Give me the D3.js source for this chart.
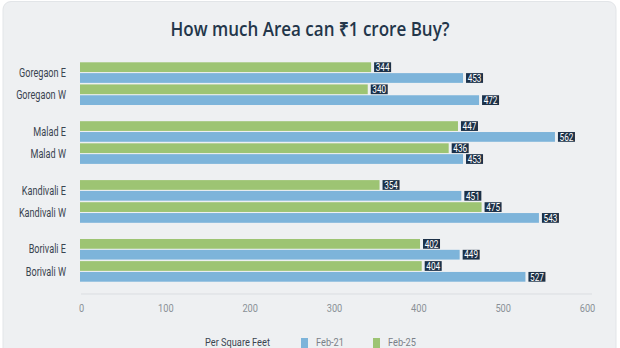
<!DOCTYPE html>
<html><head><meta charset="utf-8">
<script src="https://cdn.jsdelivr.net/npm/d3@7"></script>
<style>
html,body{margin:0;padding:0;background:#ffffff;overflow:hidden;}
svg{display:block;}
</style></head>
<body>
<svg id="chart" width="620" height="348"></svg>
<script>
const title = "How much Area can ₹1 crore Buy?";
const groups = ["Goregaon", "Malad", "Kandivali", "Borivali"];
const categories = ["Goregaon E", "Goregaon W", "Malad E", "Malad W", "Kandivali E", "Kandivali W", "Borivali E", "Borivali W"];
const seriesNames = ["Feb-25", "Feb-21"];
const feb25 = [344, 340, 447, 436, 354, 475, 402, 404];
const feb21 = [453, 472, 562, 453, 451, 543, 449, 527];
const xTicks = [0, 100, 200, 300, 400, 500, 600];
const legendTitle = "Per Square Feet";
const legendItems = ["Feb-21", "Feb-25"];

const colors = {"Feb-21": "#7db4da", "Feb-25": "#9dc473"};
const font = "Roboto, 'Open Sans', sans-serif";

const svg = d3.select("#chart");
svg.append("rect").attr("x", 3).attr("y", 1.5).attr("width", 613).attr("height", 360)
  .attr("rx", 8).attr("fill", "#eef0f2").attr("stroke", "#e2e5e8");

svg.append("text").attr("x", 310).attr("y", 36).attr("text-anchor", "middle")
  .attr("font-family", "'Open Sans', sans-serif").attr("font-weight", 600)
  .attr("font-size", 19).attr("fill", "#23364a").attr("textLength", 279)
  .attr("lengthAdjust", "spacingAndGlyphs").text(title);

const x = d3.scaleLinear().domain([0, 600]).range([81, 587]);
const yGroup = d3.scaleBand().domain(groups).range([62.3, 281.7]).paddingInner(0.275).paddingOuter(0);
const yCat = d3.scaleBand().domain([0, 1]).range([0, yGroup.bandwidth()]).paddingInner(0.07);
const ySer = d3.scaleBand().domain(seriesNames).range([0, yCat.bandwidth()]).paddingInner(0.1);

const rows = categories.map((c, i) => ({cat: c, group: groups[Math.floor(i / 2)], idx: i % 2,
  vals: {"Feb-25": feb25[i], "Feb-21": feb21[i]}}));

const catY = d => yGroup(d.group) + yCat(d.idx);

// axis line
svg.append("line").attr("x1", x(0)).attr("x2", x(600) + 5).attr("y1", 294).attr("y2", 294)
  .attr("stroke", "#dadde1").attr("stroke-width", 1);

// tick labels
const axis = d3.axisBottom(x).tickValues(xTicks).tickSize(0).tickPadding(0);
const ag = svg.append("g").attr("transform", "translate(0,305)").call(axis);
ag.select(".domain").remove();
ag.selectAll("text").attr("font-family", font).attr("font-size", 10.5).attr("fill", "#8a9097")
  .attr("dy", "0.71em").attr("transform", "scale(0.88,1)");

// category labels (condensed)
svg.append("g").selectAll("text").data(rows).join("text")
  .attr("transform", d => `translate(66,${catY(d) + yCat.bandwidth() / 2}) scale(0.76,1)`)
  .attr("dy", "0.35em")
  .attr("text-anchor", "end").attr("font-family", font).attr("font-size", 12).attr("fill", "#3a4450")
  .text(d => d.cat);

// bars
const bars = [];
rows.forEach(d => seriesNames.forEach(s => bars.push({row: d, s, v: d.vals[s]})));
svg.append("g").selectAll("rect").data(bars).join("rect")
  .attr("x", x(0) - 1).attr("y", d => catY(d.row) + ySer(d.s))
  .attr("width", d => x(d.v) - x(0) + 1).attr("height", ySer.bandwidth())
  .attr("fill", d => colors[d.s]);

// value labels
const lg = svg.append("g");
bars.forEach(d => {
  const g = lg.append("g");
  const w = 17;
  const bx = x(d.v) + 3;
  const by = catY(d.row) + ySer(d.s);
  g.append("rect").attr("x", bx).attr("y", by).attr("width", w).attr("height", ySer.bandwidth())
    .attr("fill", "#1c3148");
  g.append("text").attr("font-family", font).attr("font-size", 10.5)
    .attr("transform", `translate(${bx + w / 2},${by + ySer.bandwidth() / 2}) scale(0.78,1)`)
    .attr("fill", "#ffffff").attr("text-anchor", "middle").attr("dy", "0.36em").text(d.v);
});

// legend
const leg = svg.append("g").attr("font-family", font).attr("font-size", 11).attr("fill", "#3a4450");
leg.append("text").attr("transform", "translate(205,345.5) scale(0.84,1)").text(legendTitle);
const lx = [301, 373];
legendItems.forEach((s, i) => {
  leg.append("rect").attr("x", lx[i]).attr("y", 338).attr("width", 7).attr("height", 10).attr("fill", colors[s]);
  leg.append("text").attr("transform", `translate(${lx[i] + 15},345.5) scale(0.84,1)`)
    .attr("fill", "#7a8088").text(s);
});
</script>
</body></html>
